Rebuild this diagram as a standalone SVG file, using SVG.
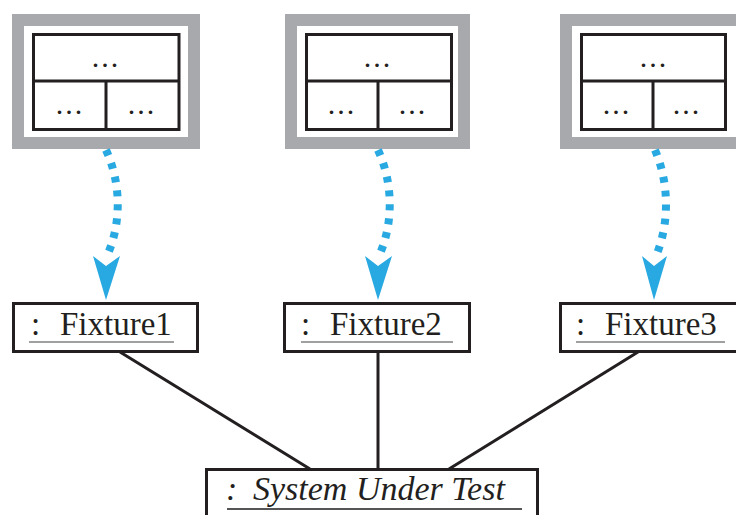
<svg xmlns="http://www.w3.org/2000/svg" width="736" height="515" viewBox="0 0 736 515">
<style>
.frame{fill:#fff;stroke:#a7a9ac;stroke-width:12}
.tbl{fill:#fff;stroke:#231f20;stroke-width:3}
.div{stroke:#231f20;stroke-width:3;fill:none}
.dots{font-family:'Liberation Serif','Times New Roman','DejaVu Serif',serif;font-size:30px;fill:#231f20;text-anchor:middle;letter-spacing:2px}
.obj{fill:#fff;stroke:#231f20;stroke-width:3}
.lbl{font-family:'Liberation Serif','Times New Roman','DejaVu Serif',serif;font-size:33px;fill:#231f20}
.sut{font-family:'Liberation Serif','Times New Roman','DejaVu Serif',serif;font-size:34px;font-style:italic;fill:#231f20}
.ul{stroke:#a0a0a0;stroke-width:2}
.ul2{stroke:#555;stroke-width:2}
.flow{fill:none;stroke:#29a9e1;stroke-width:8;stroke-dasharray:6 8}
.head{fill:#29a9e1}
.link{stroke:#231f20;stroke-width:3;fill:none}
</style>
<rect width="736" height="515" fill="#fff"/>
<g id="template1">
<rect class="frame" x="18" y="20" width="176" height="123"/>
<rect class="tbl" x="33.5" y="34.5" width="145.5" height="95"/>
<path class="div" d="M33.5,81H179M106,81V129.5"/>
<text class="dots" x="106" y="67">...</text>
<text class="dots" x="70" y="114">...</text>
<text class="dots" x="142" y="114">...</text>
</g>
<g id="template2">
<rect class="frame" x="291" y="20" width="173" height="123"/>
<rect class="tbl" x="306.5" y="34.5" width="145" height="95"/>
<path class="div" d="M306.5,81H451.5M378,81V129.5"/>
<text class="dots" x="378" y="67">...</text>
<text class="dots" x="342" y="114">...</text>
<text class="dots" x="413" y="114">...</text>
</g>
<g id="template3">
<rect class="frame" x="566" y="20" width="176" height="123"/>
<rect class="tbl" x="581.5" y="34.5" width="144" height="95"/>
<path class="div" d="M581.5,81H725.5M653,81V129.5"/>
<text class="dots" x="654" y="67">...</text>
<text class="dots" x="617" y="114">...</text>
<text class="dots" x="687" y="114">...</text>
</g>
<g id="fixture1">
<rect class="obj" x="13.5" y="303.5" width="184" height="48"/>
<text class="lbl" y="335"><tspan x="31">:</tspan><tspan x="60">Fixture1</tspan></text>
<line class="ul" x1="29" y1="342" x2="174" y2="342"/>
</g>
<g id="fixture2">
<rect class="obj" x="284.5" y="303.5" width="185" height="48"/>
<text class="lbl" y="335"><tspan x="301">:</tspan><tspan x="330">Fixture2</tspan></text>
<line class="ul" x1="301" y1="342" x2="453" y2="342"/>
</g>
<g id="fixture3">
<rect class="obj" x="560.5" y="303.5" width="190" height="48"/>
<text class="lbl" y="335"><tspan x="576">:</tspan><tspan x="605">Fixture3</tspan></text>
<line class="ul" x1="576" y1="342" x2="725" y2="342"/>
</g>
<g id="sut">
<rect class="obj" x="206.5" y="469.5" width="331" height="60"/>
<text class="sut" y="500"><tspan x="226">:</tspan><tspan x="253">System Under Test</tspan></text>
<line class="ul2" x1="227" y1="509" x2="522" y2="509"/>
</g>
<g id="connectors">
<path class="flow" d="M106,150C122,185 121,225 107,256"/>
<polygon class="head" points="93,256 106,266 120,256 106,300"/>
<path class="flow" d="M378,150C394,185 393,225 379,256"/>
<polygon class="head" points="365,256 378,266 392,256 378,300"/>
<path class="flow" d="M655,150C670,185 669,225 656,256"/>
<polygon class="head" points="642,256 654,266 667,256 654,300"/>
<line class="link" x1="120" y1="352" x2="310" y2="469"/>
<line class="link" x1="378" y1="352" x2="378" y2="469"/>
<line class="link" x1="638" y1="352" x2="449" y2="469"/>
</g>
</svg>
